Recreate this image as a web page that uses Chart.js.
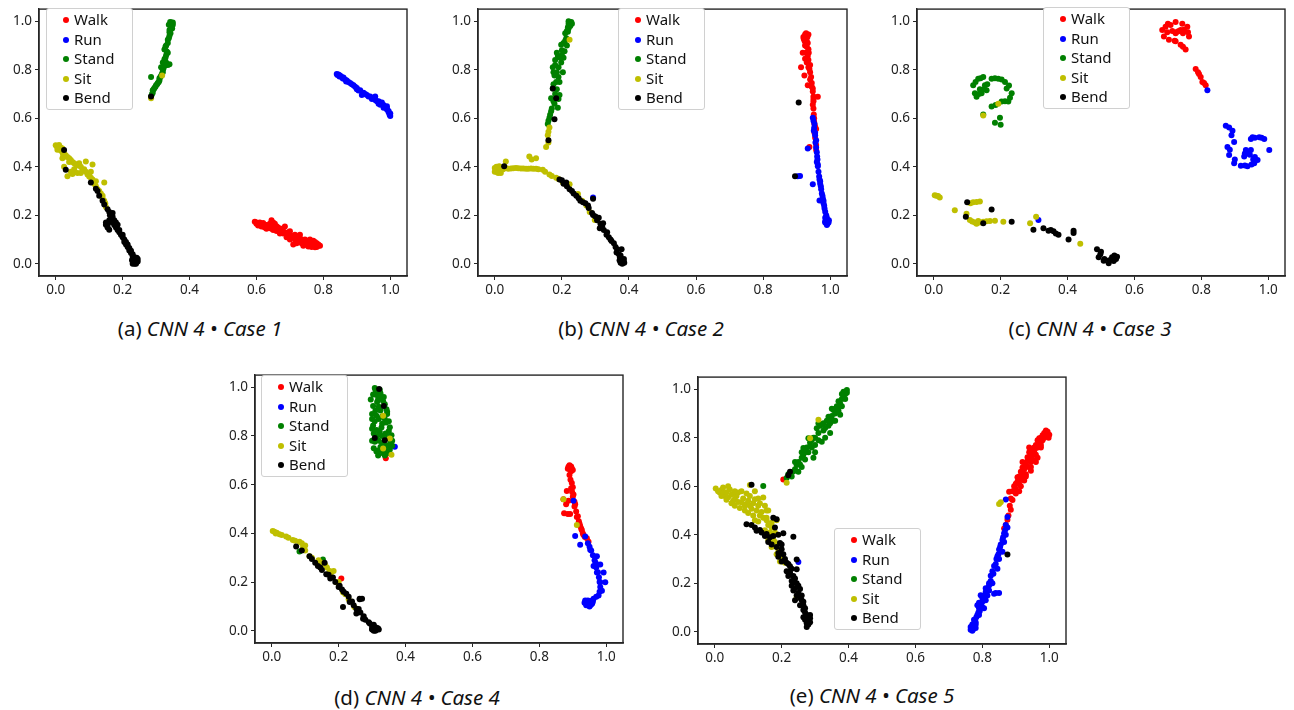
<!DOCTYPE html>
<html><head><meta charset="utf-8">
<script src="https://cdn.jsdelivr.net/npm/chart.js@4.4.1/dist/chart.umd.min.js"></script>
<style>
body{margin:0;background:#fff;width:1294px;height:710px;position:relative;overflow:hidden;font-family:"Noto Sans",sans-serif;}
canvas{position:absolute;}
.lg{position:absolute;border:1px solid #d0d0d0;border-radius:3px;background:#fff;box-sizing:border-box;padding-top:1px;}
.lg div{height:19.6px;line-height:19.6px;font-size:15px;color:#111;position:relative;padding-left:27px;}
.lg span{position:absolute;left:16px;top:7px;width:6px;height:6px;border-radius:50%;}
.ttl{position:absolute;font-size:20.5px;color:#111;white-space:nowrap;transform:translateX(-50%);}
.ttl i{font-style:italic;}
</style></head><body>
<canvas id="ca"></canvas><canvas id="cb"></canvas><canvas id="cc"></canvas><canvas id="cd"></canvas><canvas id="ce"></canvas>
<script>
const categories = ['Walk','Run','Stand','Sit','Bend'];
const xTicks = [0,0.2,0.4,0.6,0.8,1.0];
const yTicks = [0,0.2,0.4,0.6,0.8,1.0];
const panelTitles = ['(a)','(b)','(c)','(d)','(e)'];
const caseNames = ['CNN 4 \u2022 Case 1','CNN 4 \u2022 Case 2','CNN 4 \u2022 Case 3','CNN 4 \u2022 Case 4','CNN 4 \u2022 Case 5'];

// ---- (a) Case 1 ----
const a_walk = [[0.595,0.174],[0.6,0.165],[0.61,0.16],[0.615,0.154],[0.625,0.15],[0.63,0.16],[0.64,0.148],[0.645,0.18],[0.65,0.14],[0.655,0.165],[0.66,0.135],[0.67,0.14],[0.675,0.13],[0.685,0.154],[0.69,0.125],[0.69,0.11],[0.70,0.134],[0.70,0.12],[0.71,0.115],[0.71,0.08],[0.72,0.1],[0.725,0.11],[0.73,0.12],[0.735,0.1],[0.74,0.09],[0.74,0.075],[0.75,0.095],[0.755,0.08],[0.76,0.1],[0.765,0.085],[0.77,0.075],[0.775,0.09],[0.78,0.08],[0.785,0.075],[0.78,0.07],[0.62,0.168],[0.665,0.15],
 [0.6,0.17],[0.605,0.158],[0.615,0.165],[0.625,0.16],[0.635,0.155],[0.645,0.145],[0.655,0.15],[0.665,0.14],[0.675,0.145],[0.68,0.125],[0.695,0.13],[0.705,0.11],[0.715,0.12],[0.72,0.115],[0.73,0.105],[0.745,0.1],[0.75,0.085],[0.76,0.09],[0.765,0.078],[0.77,0.085],[0.775,0.075],[0.785,0.08],[0.65,0.17],[0.64,0.165],
 [0.61,0.17],[0.62,0.155],[0.63,0.145],[0.645,0.155],[0.66,0.155],[0.67,0.125],[0.68,0.135],[0.7,0.1],[0.715,0.1],[0.725,0.095],[0.735,0.085],[0.745,0.08],[0.755,0.072],[0.765,0.07],[0.775,0.068],[0.77,0.095],[0.78,0.085],[0.79,0.075],[0.72,0.085]];
const a_run = [[0.84,0.783],[0.845,0.78],[0.85,0.776],[0.855,0.77],[0.86,0.768],[0.865,0.76],[0.87,0.756],[0.88,0.745],[0.89,0.736],[0.895,0.73],[0.90,0.725],[0.91,0.716],[0.915,0.696],[0.92,0.705],[0.93,0.696],[0.94,0.69],[0.95,0.683],[0.955,0.69],[0.96,0.67],[0.965,0.66],[0.97,0.656],[0.975,0.665],[0.98,0.643],[0.985,0.645],[0.99,0.636],[0.99,0.65],[0.995,0.625],[1.0,0.609],[1.0,0.62],
 [0.842,0.778],[0.848,0.772],[0.858,0.764],[0.868,0.752],[0.875,0.75],[0.885,0.74],[0.9,0.72],[0.905,0.715],[0.925,0.7],[0.935,0.69],[0.945,0.68],[0.955,0.675],[0.965,0.67],[0.97,0.665],[0.98,0.655],[0.99,0.64],[0.995,0.63],[0.998,0.615]];
const a_stand = [[0.285,0.69],[0.29,0.705],[0.29,0.716],[0.295,0.725],[0.30,0.736],[0.305,0.745],[0.31,0.756],[0.31,0.765],[0.285,0.77],[0.315,0.775],[0.32,0.79],[0.315,0.81],[0.32,0.8],[0.325,0.815],[0.34,0.823],[0.33,0.83],[0.325,0.843],[0.33,0.86],[0.325,0.883],[0.33,0.9],[0.335,0.91],[0.335,0.924],[0.34,0.94],[0.34,0.955],[0.34,0.964],[0.345,0.975],[0.345,0.99],[0.35,0.985],[0.342,0.997],[0.335,0.87],
 [0.288,0.7],[0.293,0.72],[0.298,0.73],[0.303,0.74],[0.308,0.75],[0.313,0.77],[0.318,0.785],[0.322,0.805],[0.328,0.82],[0.335,0.82],[0.328,0.85],[0.332,0.875],[0.328,0.895],[0.338,0.93],[0.343,0.95],[0.348,0.97],[0.345,0.995],[0.35,0.995],[0.338,0.985],[0.32,0.83]];
const a_sit = [[0.0,0.489],[0.005,0.482],[0.01,0.475],[0.015,0.469],[0.02,0.46],[0.025,0.455],[0.03,0.448],[0.02,0.435],[0.035,0.44],[0.045,0.428],[0.05,0.42],[0.06,0.41],[0.07,0.415],[0.09,0.422],[0.035,0.361],[0.045,0.38],[0.055,0.39],[0.065,0.375],[0.08,0.388],[0.095,0.368],[0.1,0.36],[0.11,0.348],[0.115,0.33],[0.125,0.308],[0.145,0.335],[0.13,0.3],[0.14,0.281],[0.145,0.26],[0.15,0.234],[0.155,0.167],[0.285,0.683],[0.318,0.776],[0.005,0.47],[0.015,0.48],
 [0.003,0.485],[0.008,0.478],[0.012,0.47],[0.018,0.465],[0.022,0.45],[0.028,0.442],[0.04,0.435],[0.04,0.42],[0.055,0.415],[0.065,0.405],[0.075,0.4],[0.085,0.39],[0.09,0.38],[0.1,0.37],[0.105,0.355],[0.12,0.34],[0.025,0.4],[0.05,0.37],[0.075,0.375],[0.105,0.38],[0.11,0.41],[0.12,0.32],[0.135,0.29],[0.14,0.27],[0.148,0.25],[0.01,0.49],[0.02,0.475]];
const a_bend = [[0.025,0.469],[0.03,0.388],[0.105,0.335],[0.12,0.31],[0.13,0.281],[0.145,0.245],[0.155,0.225],[0.16,0.214],[0.165,0.2],[0.17,0.194],[0.175,0.18],[0.185,0.161],[0.15,0.161],[0.16,0.141],[0.155,0.15],[0.19,0.14],[0.2,0.12],[0.205,0.1],[0.21,0.09],[0.215,0.08],[0.22,0.065],[0.225,0.054],[0.23,0.04],[0.235,0.027],[0.24,0.02],[0.24,0.007],[0.23,0.0],[0.235,0.01],[0.285,0.69],
 [0.15,0.17],[0.155,0.16],[0.16,0.18],[0.165,0.175],[0.17,0.17],[0.175,0.16],[0.18,0.15],[0.18,0.17],[0.185,0.14],[0.19,0.13],[0.195,0.12],[0.2,0.11],[0.205,0.09],[0.21,0.08],[0.215,0.07],[0.22,0.055],[0.225,0.045],[0.23,0.03],[0.228,0.015],[0.238,0.015],[0.242,0.025],[0.232,0.005],[0.17,0.21],[0.162,0.2],[0.14,0.26],[0.125,0.3],
 [0.24,0.0],[0.245,0.01],[0.236,0.0],[0.245,0.02],[0.23,0.02]];

// ---- (b) Case 2 ----
const b_walk = [[0.928,0.937],[0.925,0.93],[0.93,0.94],[0.923,0.924],[0.933,0.91],[0.918,0.87],[0.933,0.857],[0.935,0.885],[0.913,0.81],[0.938,0.803],[0.923,0.776],[0.943,0.77],[0.933,0.736],[0.948,0.723],[0.945,0.745],[0.963,0.689],[0.948,0.656],[0.95,0.68],[0.951,0.616],[0.953,0.576],[0.958,0.556],[0.938,0.482],[0.958,0.469],[0.93,0.83],[0.94,0.79],
 [0.925,0.945],[0.932,0.935],[0.92,0.935],[0.928,0.925],[0.93,0.918],[0.925,0.9],[0.93,0.895],[0.928,0.87],[0.936,0.87],[0.925,0.845],[0.935,0.84],[0.94,0.82],[0.935,0.81],[0.94,0.76],[0.945,0.73],[0.948,0.71],[0.95,0.69],[0.95,0.67],[0.95,0.64],[0.952,0.6],[0.952,0.585],[0.955,0.565],[0.953,0.54],[0.955,0.52],[0.958,0.49],
 [0.921,0.928],[0.935,0.945],[0.928,0.95],[0.924,0.918]];
const b_run = [[0.948,0.602],[0.953,0.576],[0.951,0.549],[0.958,0.509],[0.955,0.53],[0.933,0.475],[0.961,0.442],[0.963,0.402],[0.96,0.42],[0.903,0.361],[0.948,0.328],[0.968,0.348],[0.97,0.33],[0.973,0.308],[0.978,0.268],[0.968,0.261],[0.98,0.25],[0.983,0.228],[0.988,0.2],[0.985,0.19],[0.993,0.174],[0.988,0.167],[0.99,0.18],[0.293,0.274],
 [0.95,0.59],[0.952,0.56],[0.955,0.54],[0.956,0.5],[0.958,0.48],[0.96,0.46],[0.962,0.43],[0.963,0.41],[0.965,0.38],[0.967,0.36],[0.97,0.34],[0.972,0.32],[0.975,0.29],[0.977,0.28],[0.98,0.26],[0.982,0.24],[0.985,0.215],[0.99,0.19],[0.992,0.165],[0.985,0.17],[0.91,0.362],
 [0.995,0.17],[0.99,0.16],[0.985,0.175],[0.996,0.18],[0.99,0.172]];
const b_stand = [[0.158,0.576],[0.163,0.602],[0.168,0.629],[0.188,0.643],[0.168,0.683],[0.193,0.696],[0.173,0.723],[0.193,0.75],[0.178,0.776],[0.203,0.79],[0.173,0.81],[0.198,0.83],[0.188,0.857],[0.208,0.876],[0.198,0.903],[0.213,0.93],[0.218,0.957],[0.223,0.984],[0.228,0.997],[0.18,0.84],[0.185,0.79],[0.205,0.85],[0.215,0.9],[0.22,0.97],[0.183,0.75],[0.178,0.66],
 [0.16,0.59],[0.165,0.615],[0.17,0.64],[0.175,0.67],[0.18,0.7],[0.175,0.74],[0.185,0.72],[0.19,0.77],[0.175,0.79],[0.18,0.82],[0.19,0.81],[0.195,0.85],[0.185,0.87],[0.2,0.88],[0.205,0.91],[0.21,0.92],[0.21,0.95],[0.215,0.96],[0.22,0.99],[0.225,0.99],[0.218,0.975],[0.2,0.86],[0.19,0.68],
 [0.225,0.98],[0.23,0.99],[0.22,1.0]];
const b_sit = [[0.003,0.388],[0.013,0.402],[0.018,0.375],[0.008,0.38],[0.033,0.395],[0.048,0.393],[0.063,0.395],[0.078,0.393],[0.093,0.392],[0.108,0.393],[0.123,0.392],[0.143,0.388],[0.163,0.368],[0.183,0.355],[0.203,0.335],[0.223,0.328],[0.248,0.288],[0.273,0.241],[0.283,0.214],[0.298,0.181],[0.153,0.482],[0.163,0.562],[0.158,0.53],[0.103,0.442],[0.123,0.435],[0.033,0.422],[0.223,0.924],
 [0.005,0.395],[0.01,0.39],[0.005,0.38],[0.015,0.385],[0.02,0.395],[0.025,0.39],[0.04,0.392],[0.055,0.394],[0.07,0.394],[0.085,0.393],[0.1,0.392],[0.115,0.392],[0.13,0.39],[0.15,0.38],[0.17,0.362],[0.19,0.35],[0.21,0.33],[0.16,0.5],[0.16,0.545],[0.11,0.43],[0.26,0.26],
 [0.0,0.395],[0.0,0.38],[0.01,0.375],[0.015,0.4],[0.005,0.4]];
const b_bend = [[0.193,0.348],[0.213,0.335],[0.223,0.308],[0.243,0.281],[0.263,0.254],[0.293,0.268],[0.278,0.241],[0.293,0.201],[0.31,0.19],[0.323,0.167],[0.313,0.147],[0.333,0.12],[0.348,0.094],[0.378,0.06],[0.363,0.047],[0.373,0.027],[0.381,0.013],[0.378,0.02],[0.173,0.723],[0.183,0.683],[0.178,0.596],[0.16,0.509],[0.906,0.665],[0.895,0.361],[0.028,0.402],
 [0.2,0.345],[0.205,0.33],[0.215,0.32],[0.23,0.3],[0.235,0.29],[0.25,0.27],[0.255,0.26],[0.27,0.25],[0.28,0.23],[0.29,0.21],[0.3,0.195],[0.305,0.18],[0.315,0.165],[0.32,0.155],[0.325,0.14],[0.335,0.13],[0.34,0.11],[0.345,0.1],[0.355,0.085],[0.36,0.07],[0.365,0.06],[0.37,0.04],[0.375,0.035],[0.378,0.015],[0.384,0.01],[0.375,0.01],
 [0.375,0.005],[0.385,0.02],[0.38,0.0],[0.372,0.015],[0.386,0.005]];

// ---- (c) Case 3 ----
const c_walk = [[0.683,0.964],[0.688,0.937],[0.703,0.924],[0.723,0.917],[0.738,0.903],[0.753,0.884],[0.728,0.957],[0.738,0.964],[0.708,0.984],[0.723,0.997],[0.743,0.99],[0.758,0.977],[0.763,0.937],[0.693,0.977],[0.733,0.96],[0.783,0.803],[0.793,0.783],[0.798,0.77],[0.803,0.75],[0.813,0.736],[0.79,0.79],
 [0.698,0.955],[0.713,0.96],[0.723,0.95],[0.745,0.95],[0.748,0.965],[0.72,0.92],[0.745,0.895],[0.7,0.99],[0.76,0.955],[0.808,0.745]];
const c_run = [[0.873,0.569],[0.883,0.562],[0.893,0.549],[0.898,0.502],[0.878,0.482],[0.883,0.449],[0.898,0.415],[0.918,0.404],[0.938,0.402],[0.958,0.415],[0.968,0.428],[0.938,0.455],[0.948,0.469],[0.933,0.469],[0.928,0.442],[0.953,0.522],[0.973,0.522],[0.988,0.515],[1.003,0.469],[0.948,0.515],[0.94,0.46],[0.818,0.716],[0.313,0.181],
 [0.89,0.53],[0.885,0.47],[0.9,0.43],[0.93,0.405],[0.95,0.41],[0.96,0.44],[0.945,0.45],[0.93,0.455],[0.96,0.52],[0.98,0.52],[0.955,0.43]];
const c_stand = [[0.118,0.736],[0.133,0.763],[0.148,0.77],[0.123,0.703],[0.143,0.703],[0.158,0.716],[0.153,0.736],[0.173,0.763],[0.193,0.763],[0.213,0.75],[0.218,0.723],[0.233,0.703],[0.223,0.669],[0.203,0.669],[0.173,0.649],[0.148,0.616],[0.198,0.602],[0.183,0.582],[0.2,0.573],[0.128,0.689],[0.138,0.72],
 [0.125,0.75],[0.14,0.765],[0.15,0.72],[0.135,0.7],[0.16,0.74],[0.183,0.765],[0.203,0.76],[0.225,0.735],[0.228,0.685],[0.213,0.67],[0.185,0.655]];
const c_sit = [[0.008,0.281],[0.018,0.274],[0.003,0.283],[0.063,0.221],[0.098,0.207],[0.118,0.254],[0.138,0.257],[0.108,0.181],[0.123,0.171],[0.133,0.177],[0.148,0.174],[0.168,0.177],[0.183,0.178],[0.208,0.174],[0.288,0.167],[0.306,0.194],[0.438,0.083],[0.193,0.66],[0.148,0.611],
 [0.013,0.28],[0.115,0.175],[0.128,0.165],[0.138,0.17],[0.158,0.176],[0.128,0.255],[0.11,0.25]];
const c_bend = [[0.1,0.254],[0.096,0.194],[0.173,0.224],[0.233,0.174],[0.298,0.141],[0.328,0.147],[0.343,0.137],[0.358,0.134],[0.373,0.12],[0.418,0.137],[0.418,0.127],[0.403,0.1],[0.488,0.06],[0.498,0.04],[0.508,0.013],[0.523,0.003],[0.533,0.027],[0.548,0.029],[0.538,0.012],[0.493,0.027],[0.148,0.167],
 [0.35,0.14],[0.365,0.125],[0.51,0.02],[0.525,0.015],[0.545,0.02],[0.54,0.035],[0.5,0.05]];

// ---- (d) Case 4 ----
const d_walk = [[0.887,0.674],[0.897,0.667],[0.892,0.66],[0.89,0.64],[0.897,0.607],[0.882,0.574],[0.902,0.56],[0.872,0.54],[0.887,0.534],[0.907,0.52],[0.874,0.483],[0.892,0.48],[0.912,0.467],[0.92,0.44],[0.927,0.413],[0.932,0.393],[0.942,0.38],[0.947,0.366],[0.9,0.59],[0.341,0.709],[0.208,0.215],
 [0.89,0.67],[0.895,0.655],[0.893,0.62],[0.895,0.585],[0.898,0.57],[0.9,0.55],[0.905,0.53],[0.905,0.51],[0.91,0.49],[0.915,0.47],[0.918,0.45],[0.922,0.43],[0.925,0.42],[0.93,0.4],[0.936,0.385],[0.885,0.48],[0.88,0.52],
 [0.885,0.665],[0.895,0.675],[0.89,0.68],[0.9,0.66]];
const d_run = [[0.902,0.534],[0.907,0.389],[0.922,0.353],[0.937,0.387],[0.952,0.333],[0.972,0.306],[0.962,0.266],[0.982,0.272],[0.972,0.239],[0.992,0.239],[0.997,0.199],[0.982,0.199],[0.987,0.165],[0.977,0.145],[0.962,0.132],[0.947,0.121],[0.942,0.111],[0.952,0.105],[0.937,0.125],[0.955,0.115],[0.368,0.756],
 [0.945,0.36],[0.95,0.345],[0.955,0.33],[0.96,0.31],[0.965,0.29],[0.968,0.28],[0.97,0.26],[0.975,0.24],[0.978,0.22],[0.98,0.2],[0.982,0.18],[0.98,0.16],[0.97,0.14],[0.958,0.125],[0.948,0.112],[0.94,0.118],[0.945,0.105],[0.955,0.108],[0.96,0.12],
 [0.945,0.125],[0.94,0.105],[0.95,0.1],[0.958,0.112],[0.935,0.115],[0.95,0.12]];
const d_stand = [[0.308,0.997],[0.323,0.99],[0.318,0.963],[0.333,0.943],[0.303,0.923],[0.343,0.91],[0.313,0.883],[0.338,0.87],[0.303,0.843],[0.353,0.836],[0.323,0.816],[0.358,0.803],[0.308,0.776],[0.343,0.762],[0.313,0.736],[0.333,0.729],[0.353,0.743],[0.318,0.95],[0.33,0.85],[0.315,0.8],[0.153,0.293],[0.083,0.326],
 [0.31,0.99],[0.325,0.975],[0.31,0.97],[0.328,0.955],[0.315,0.94],[0.338,0.93],[0.31,0.905],[0.325,0.905],[0.345,0.89],[0.32,0.87],[0.308,0.86],[0.342,0.855],[0.328,0.835],[0.313,0.825],[0.35,0.82],[0.33,0.8],[0.345,0.79],[0.32,0.78],[0.355,0.77],[0.325,0.755],[0.34,0.745],[0.318,0.74],[0.348,0.73],[0.338,0.72],[0.305,0.81],[0.3,0.89],
 [0.296,0.95],[0.3,0.87],[0.3,0.83],[0.3,0.78],[0.305,0.75],[0.36,0.78],[0.36,0.76],[0.355,0.8],[0.35,0.86],[0.345,0.9],[0.335,0.96],[0.315,0.985],[0.303,0.97],[0.32,0.92],[0.33,0.88],[0.34,0.81],[0.33,0.77],[0.318,0.72],[0.33,0.74],[0.35,0.75]];
const d_sit = [[0.008,0.407],[0.023,0.397],[0.043,0.387],[0.063,0.373],[0.083,0.366],[0.093,0.34],[0.113,0.306],[0.133,0.279],[0.148,0.279],[0.173,0.246],[0.185,0.246],[0.193,0.199],[0.213,0.158],[0.247,0.098],[0.872,0.54],[0.912,0.434],[0.333,0.883],[0.353,0.79],[0.333,0.749],[0.358,0.723],
 [0.003,0.41],[0.015,0.403],[0.03,0.393],[0.05,0.382],[0.07,0.37],[0.09,0.36],[0.1,0.33],[0.12,0.3],[0.14,0.29],[0.16,0.27],[0.165,0.26],[0.178,0.24],[0.2,0.2],[0.22,0.15],[0.23,0.13],[0.012,0.4],[0.1,0.35]];
const d_bend = [[0.073,0.346],[0.113,0.306],[0.138,0.266],[0.158,0.279],[0.163,0.232],[0.183,0.219],[0.203,0.185],[0.223,0.152],[0.213,0.098],[0.233,0.118],[0.253,0.091],[0.263,0.132],[0.253,0.071],[0.273,0.05],[0.293,0.03],[0.308,0.011],[0.313,0.004],[0.321,0.993],[0.308,0.792],[0.338,0.782],[0.335,0.923],
 [0.09,0.33],[0.12,0.295],[0.13,0.28],[0.145,0.26],[0.15,0.25],[0.17,0.23],[0.175,0.215],[0.19,0.2],[0.2,0.18],[0.21,0.17],[0.215,0.16],[0.23,0.14],[0.24,0.12],[0.245,0.105],[0.26,0.09],[0.265,0.075],[0.275,0.06],[0.28,0.045],[0.29,0.035],[0.3,0.02],[0.305,0.025],[0.315,0.012],[0.31,0.0],[0.3,0.008],[0.32,0.005],[0.263,0.13],[0.27,0.132],
 [0.305,0.0],[0.318,0.01],[0.31,0.015],[0.3,0.005]];

// ---- (e) Case 5 ----
const e_walk = [[0.865,0.426],[0.875,0.462],[0.885,0.503],[0.89,0.543],[0.88,0.577],[0.9,0.57],[0.91,0.61],[0.905,0.637],[0.925,0.624],[0.92,0.677],[0.935,0.704],[0.945,0.664],[0.95,0.731],[0.96,0.758],[0.975,0.785],[0.965,0.718],[0.985,0.812],[0.995,0.825],[1.0,0.812],[0.97,0.798],[0.94,0.74],[0.93,0.65],[0.205,0.628],
 [0.87,0.44],[0.878,0.48],[0.882,0.52],[0.885,0.55],[0.89,0.58],[0.895,0.6],[0.9,0.59],[0.905,0.62],[0.91,0.64],[0.915,0.66],[0.918,0.63],[0.925,0.67],[0.93,0.69],[0.938,0.68],[0.94,0.72],[0.945,0.7],[0.95,0.75],[0.955,0.74],[0.96,0.77],[0.965,0.76],[0.97,0.78],[0.975,0.8],[0.98,0.79],[0.985,0.8],[0.99,0.82],[0.99,0.81],[0.995,0.81],[0.998,0.8],[0.95,0.71],[0.96,0.73],
 [0.9,0.61],[0.92,0.65],[0.935,0.72],[0.955,0.76],[0.965,0.79],[0.98,0.81],[0.985,0.82],[0.99,0.83],[0.975,0.77],[0.96,0.7],[0.945,0.68],[0.93,0.64],[0.915,0.6],[0.895,0.58],[0.91,0.58],[0.92,0.7],[0.94,0.76],[0.975,0.76]];
const e_run = [[0.765,0.009],[0.77,0.03],[0.775,0.05],[0.785,0.07],[0.79,0.097],[0.80,0.124],[0.795,0.151],[0.81,0.164],[0.82,0.191],[0.835,0.157],[0.825,0.231],[0.835,0.271],[0.845,0.312],[0.85,0.339],[0.86,0.379],[0.865,0.406],[0.875,0.473],[0.87,0.546],[0.78,0.016],[0.805,0.097],[0.25,0.288],
 [0.768,0.02],[0.772,0.01],[0.775,0.035],[0.78,0.04],[0.782,0.06],[0.788,0.08],[0.792,0.085],[0.797,0.11],[0.8,0.14],[0.805,0.15],[0.81,0.18],[0.815,0.17],[0.82,0.2],[0.825,0.21],[0.83,0.25],[0.833,0.24],[0.84,0.28],[0.842,0.3],[0.848,0.32],[0.853,0.35],[0.855,0.36],[0.862,0.39],[0.868,0.42],[0.87,0.44],[0.785,0.11],[0.79,0.12],[0.773,0.022],
 [0.77,0.005],[0.765,0.02],[0.775,0.015],[0.78,0.03],[0.79,0.07],[0.8,0.1],[0.81,0.13],[0.815,0.15],[0.82,0.17],[0.83,0.2],[0.84,0.16],[0.85,0.16],[0.845,0.26],[0.85,0.3],[0.86,0.33],[0.865,0.37],[0.87,0.4],[0.875,0.43]];
const e_stand = [[0.215,0.634],[0.235,0.661],[0.245,0.688],[0.26,0.718],[0.265,0.758],[0.285,0.766],[0.295,0.718],[0.28,0.798],[0.305,0.839],[0.32,0.784],[0.325,0.86],[0.34,0.887],[0.345,0.82],[0.355,0.914],[0.375,0.895],[0.37,0.95],[0.385,0.97],[0.395,0.997],[0.38,0.93],[0.145,0.601],
 [0.22,0.65],[0.24,0.67],[0.25,0.7],[0.255,0.69],[0.265,0.73],[0.27,0.74],[0.275,0.76],[0.29,0.79],[0.295,0.8],[0.3,0.77],[0.31,0.82],[0.315,0.85],[0.33,0.84],[0.335,0.87],[0.345,0.88],[0.35,0.89],[0.355,0.87],[0.36,0.9],[0.365,0.93],[0.37,0.91],[0.375,0.94],[0.38,0.96],[0.39,0.98],[0.39,0.96],[0.385,0.99],[0.33,0.8],[0.3,0.74],[0.27,0.71],
 [0.23,0.64],[0.25,0.66],[0.26,0.68],[0.28,0.74],[0.29,0.76],[0.3,0.8],[0.31,0.79],[0.325,0.83],[0.34,0.85],[0.345,0.86],[0.36,0.87],[0.36,0.92],[0.37,0.93],[0.38,0.98],[0.395,0.985],[0.39,0.99],[0.35,0.92],[0.31,0.86],[0.285,0.78],[0.26,0.74],[0.24,0.7]];
const e_sit = [[0.003,0.591],[0.015,0.574],[0.03,0.56],[0.045,0.587],[0.06,0.547],[0.07,0.574],[0.08,0.534],[0.095,0.527],[0.105,0.56],[0.12,0.547],[0.11,0.507],[0.125,0.5],[0.145,0.554],[0.14,0.494],[0.155,0.46],[0.15,0.419],[0.17,0.392],[0.185,0.359],[0.195,0.325],[0.21,0.285],[0.185,0.46],[0.105,0.605],[0.245,0.144],[0.215,0.615],[0.31,0.874],[0.285,0.798],[0.85,0.527],[0.855,0.534],
 [0.01,0.58],[0.02,0.585],[0.025,0.57],[0.035,0.575],[0.04,0.555],[0.05,0.565],[0.055,0.54],[0.065,0.56],[0.07,0.535],[0.085,0.55],[0.09,0.52],[0.1,0.54],[0.105,0.52],[0.115,0.53],[0.13,0.52],[0.135,0.48],[0.145,0.47],[0.16,0.44],[0.165,0.41],[0.175,0.38],[0.18,0.37],[0.19,0.34],[0.2,0.31],[0.2,0.3],[0.13,0.55],[0.155,0.5],
 [0.02,0.56],[0.035,0.545],[0.05,0.53],[0.06,0.52],[0.075,0.51],[0.09,0.5],[0.1,0.49],[0.115,0.48],[0.12,0.46],[0.13,0.455],[0.08,0.58],[0.095,0.57],[0.12,0.58],[0.135,0.53],[0.15,0.52],[0.16,0.5],[0.17,0.45],[0.17,0.43],[0.18,0.41],[0.16,0.38],[0.17,0.35],[0.185,0.32],[0.195,0.29],[0.155,0.47],[0.06,0.58],[0.04,0.6],[0.025,0.595]];
const e_bend = [[0.11,0.606],[0.095,0.444],[0.125,0.417],[0.155,0.403],[0.175,0.47],[0.185,0.464],[0.18,0.43],[0.175,0.395],[0.205,0.406],[0.235,0.392],[0.195,0.366],[0.19,0.325],[0.215,0.285],[0.225,0.245],[0.245,0.258],[0.235,0.204],[0.255,0.177],[0.245,0.151],[0.265,0.124],[0.27,0.097],[0.285,0.056],[0.275,0.036],[0.285,0.07],[0.225,0.66],[0.22,0.645],[0.875,0.319],[0.245,0.298],
 [0.11,0.44],[0.14,0.41],[0.165,0.39],[0.19,0.4],[0.2,0.36],[0.2,0.34],[0.205,0.32],[0.21,0.3],[0.22,0.28],[0.225,0.27],[0.23,0.26],[0.235,0.23],[0.24,0.22],[0.245,0.2],[0.25,0.19],[0.25,0.16],[0.255,0.14],[0.26,0.13],[0.265,0.11],[0.27,0.08],[0.275,0.07],[0.28,0.06],[0.28,0.045],[0.27,0.05],[0.285,0.04],[0.265,0.09],[0.24,0.18],[0.23,0.21],
 [0.12,0.43],[0.135,0.42],[0.15,0.395],[0.16,0.37],[0.185,0.35],[0.17,0.36],[0.19,0.31],[0.2,0.29],[0.215,0.25],[0.22,0.23],[0.23,0.19],[0.235,0.17],[0.26,0.15],[0.265,0.06],[0.275,0.02],[0.28,0.03],[0.255,0.11],[0.24,0.13]];

const panelData = [
  [a_walk,a_run,a_stand,a_sit,a_bend],
  [b_walk,b_run,b_stand,b_sit,b_bend],
  [c_walk,c_run,c_stand,c_sit,c_bend],
  [d_walk,d_run,d_stand,d_sit,d_bend],
  [e_walk,e_run,e_stand,e_sit,e_bend]
];

// ---- styles / layout ----
const colors = ['#ff0000','#0000ff','#008000','#bfbf00','#000000'];
const frames = [ // chart area L,R,T,B in page pixels
  [39,407,2,276],[478,847,2,276],[917,1285,2,276],[255,623,368,643],[698,1066,370,644]
];
const legendBoxes = [[46,8],[618,8],[1043,7],[261,375],[834,528]];
const titlePos = [[200,314],[641,314],[1090,314],[417,683],[872,681]];
const YW = 40, XH = 30, PT = 4, PR = 10;

const framePlugin = {
  id:'frame',
  afterDraw(chart){
    const {ctx, chartArea:a} = chart;
    ctx.save(); ctx.strokeStyle='#262626'; ctx.lineWidth=1.4;
    ctx.strokeRect(a.left, a.top, a.right-a.left, a.bottom-a.top);
    ctx.restore();
  }
};

panelData.forEach((sets, i) => {
  const [L,R,T,B] = frames[i];
  const cv = document.getElementById('c'+'abcde'[i]);
  const w = (R-L)+YW+PR, h = (B-T)+PT+XH;
  cv.width = w; cv.height = h;
  cv.style.left = (L-YW)+'px'; cv.style.top = (T-PT)+'px';
  cv.style.width = w+'px'; cv.style.height = h+'px';
  new Chart(cv, {
    type:'scatter',
    data:{datasets: sets.map((arr,k)=>({
      label: categories[k],
      data: arr.map(p=>({x:p[0],y:p[1]})),
      backgroundColor: colors[k], borderWidth:0,
      pointRadius:3, pointHoverRadius:3, order: 5-k
    }))},
    options:{
      responsive:false, animation:false, devicePixelRatio:1,
      layout:{padding:{top:PT,right:PR,left:0,bottom:0}},
      plugins:{legend:{display:false},tooltip:{enabled:false}},
      scales:{
        x:{type:'linear',min:-0.05,max:1.05,
          afterBuildTicks:s=>{s.ticks=xTicks.map(v=>({value:v}));},
          afterFit:s=>{s.height=XH;},
          ticks:{callback:v=>v.toFixed(1),color:'#222',font:{family:'Noto Sans',size:13.5},padding:2,maxRotation:0},
          grid:{drawOnChartArea:false,drawTicks:true,tickLength:4,color:'#262626'},
          border:{display:true,color:'#262626',width:1.4}},
        y:{type:'linear',min:-0.05,max:1.05,
          afterBuildTicks:s=>{s.ticks=yTicks.map(v=>({value:v}));},
          afterFit:s=>{s.width=YW;},
          ticks:{callback:v=>v.toFixed(1),color:'#222',font:{family:'Noto Sans',size:13.5},padding:3},
          grid:{drawOnChartArea:false,drawTicks:true,tickLength:4,color:'#262626'},
          border:{display:true,color:'#262626',width:1.4}}
      }
    },
    plugins:[framePlugin]
  });
  const lg = document.createElement('div');
  lg.className='lg';
  lg.style.left=legendBoxes[i][0]+'px'; lg.style.top=legendBoxes[i][1]+'px';
  lg.style.width='87px'; lg.style.height='102px';
  categories.forEach((c,k)=>{
    const r=document.createElement('div');
    const s=document.createElement('span'); s.style.background=colors[k];
    r.appendChild(s); r.appendChild(document.createTextNode(c));
    lg.appendChild(r);
  });
  document.body.appendChild(lg);
  const t=document.createElement('div');
  t.className='ttl';
  t.style.left=titlePos[i][0]+'px'; t.style.top=titlePos[i][1]+'px';
  t.innerHTML=panelTitles[i]+' <i>'+caseNames[i]+'</i>';
  document.body.appendChild(t);
});
</script>
</body></html>
